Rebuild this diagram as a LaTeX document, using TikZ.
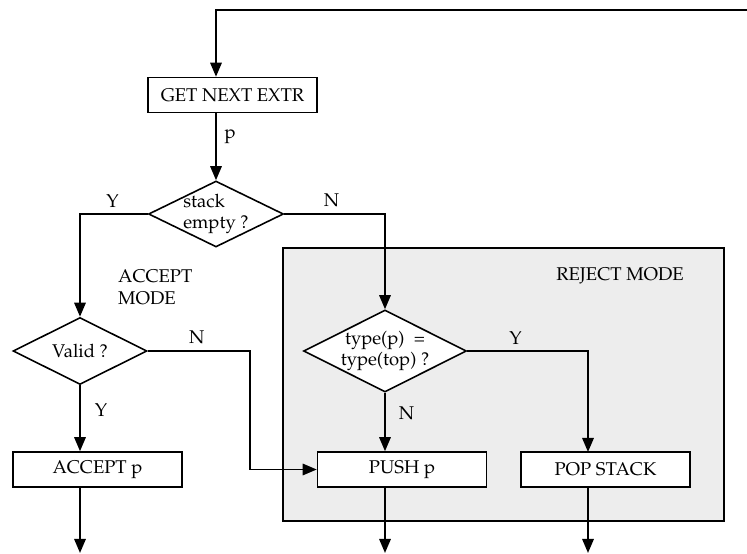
\documentclass[tikz,border=0pt]{standalone}
\usepackage[T1]{fontenc}
\usepackage{mathpazo}
\usetikzlibrary{shapes.geometric,arrows.meta}

\begin{document}
\begin{tikzpicture}[x=0.02cm,y=-0.02cm,font=\fontsize{10.5}{12.3}\selectfont,
  arr/.style={line width=1.1pt,-{Triangle[length=8pt,width=6.5pt]}},
  box/.style={draw,line width=0.9pt,fill=white,minimum width=3.38cm,
    minimum height=0.7cm,inner sep=0pt},
  test/.style={draw,diamond,shape aspect=2,line width=0.9pt,fill=white,
    inner sep=-4pt,align=center}]
  \useasboundingbox (0,0) rectangle (747,554);
  % shaded reject region
  \node[draw,line width=0.9pt,fill=black!7,minimum width=8.82cm,
    minimum height=5.46cm,inner sep=0pt] (reject) at (503.5,384.5) {};
  \node (rejectlbl) at (620,276) {REJECT MODE};
  \node[align=left,anchor=west] (acceptlbl) at (112,287.5) {ACCEPT\\MODE};
  % blocks
  \node[box] (get) at (232.5,95) {GET NEXT EXTR};
  \node[test,align=left,minimum width=2.7cm,minimum height=1.32cm]
    (empty) at (216,214) {stack\\empty ?};
  \node[test,minimum width=2.68cm,minimum height=1.34cm]
    (valid) at (80,351) {Valid ?};
  \node[test,minimum width=3.26cm,minimum height=1.64cm]
    (same) at (385,351) {type(p)\enspace=\\type(top) ?};
  \node[box] (accept) at (97.5,469.5) {ACCEPT p};
  \node[box] (push) at (402,469.5) {PUSH p};
  \node[box] (pop) at (605.5,469.5) {POP STACK};
  % loose ends
  \coordinate (back) at (750,10);
  \coordinate (vturn) at (250,351);
  \coordinate (popin) at (588,452);
  \coordinate (outA) at (80,553);
  \coordinate (outB) at (385,553);
  \coordinate (outC) at (588,553);
  % flow
  \draw[arr] (back) -| (empty.north |- get.north);
  \draw[arr] (get.south -| empty.north) -- node[pos=0.35,right=1pt] (plbl) {p}
    (empty.north);
  \draw[arr] (empty.west) -| node[pos=0.26,above] (ylbl1) {Y} (valid.north);
  \draw[arr] (empty.east) -| node[pos=0.235,above] (nlbl1) {N} (same.north);
  \draw[arr] (valid.south) -- node[pos=0.38,right=4.6pt] (ylbl2) {Y}
    (valid.south |- accept.north);
  \draw[arr] (valid.east) -- node[pos=0.48,above] (nlbl2) {N} (vturn)
    |- (push.west);
  \draw[arr] (same.south) -- node[pos=0.35,right=4pt] (nlbl3) {N}
    (same.south |- push.north);
  \draw[arr] (same.east) -| node[pos=0.2,above] (ylbl3) {Y} (popin);
  \draw[arr] (accept.south -| outA) -- (outA);
  \draw[arr] (push.south -| outB) -- (outB);
  \draw[arr] (pop.south -| outC) -- (outC);
\end{tikzpicture}
\end{document}
